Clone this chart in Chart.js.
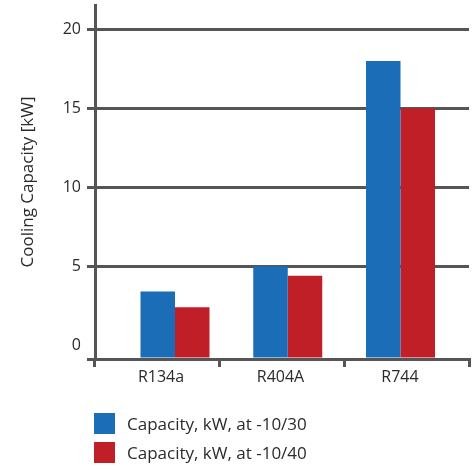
<!DOCTYPE html>
<html>
<head>
<meta charset="utf-8">
<script src="https://cdn.jsdelivr.net/npm/chart.js@4/dist/chart.umd.min.js"></script>
<style>
  html, body { margin: 0; padding: 0; background: #fff; }
  #wrap { position: relative; width: 474px; height: 470px; }
  #legend { position: absolute; left: 94px; top: 409px; font-family: "Open Sans", sans-serif; font-size: 17px; color: #2b2b2b; }
  .item { display: flex; align-items: center; height: 29px; }
  .box { width: 21px; height: 21px; margin-right: 12px; }
</style>
</head>
<body>
<div id="wrap">
  <canvas id="c" width="474" height="470"></canvas>
  <div id="legend"></div>
</div>
<script>
const categories = ["R134a", "R404A", "R744"];
const seriesNames = ["Capacity, kW, at -10/30", "Capacity, kW, at -10/40"];
const capacity1030 = [3.4, 5.0, 18.0];
const capacity1040 = [2.4, 4.4, 15.0];
const yTickValues = [0, 5, 10, 15, 20];
const yTitle = "Cooling Capacity [kW]";

const Y_MIN = -0.88;
const Y_MAX = 21.54;
const colors = ["#1b6db7", "#c11f27"];
const gridColor = "#555555";
const textColor = "#2b2b2b";

const toPoints = (arr) => arr.map((v, i) => ({ x: i, y: v }));
const indexTicks = (s) => { s.ticks = categories.map((_, i) => ({ value: i })); };

const chart = new Chart(document.getElementById("c"), {
  type: "bar",
  data: {
    labels: categories,
    datasets: [
      { label: seriesNames[0], data: toPoints(capacity1030), backgroundColor: colors[0], base: Y_MIN, xAxisID: "xb" },
      { label: seriesNames[1], data: toPoints(capacity1040), backgroundColor: colors[1], base: Y_MIN, xAxisID: "xb" }
    ]
  },
  options: {
    responsive: false,
    animation: false,
    devicePixelRatio: 1,
    layout: { padding: { left: 0, right: 5, top: 5, bottom: 71 } },
    datasets: { bar: { barPercentage: 1, categoryPercentage: 0.612 } },
    plugins: { legend: { display: false }, tooltip: { enabled: false } },
    scales: {
      xb: {
        type: "linear",
        axis: "x",
        position: "bottom",
        display: false,
        offset: false,
        min: -0.7095,
        max: 2.6075,
        afterBuildTicks: indexTicks
      },
      x: {
        type: "category",
        offset: true,
        weight: 0,
        grid: { display: true, drawOnChartArea: false, offset: true, color: gridColor, lineWidth: 3, tickLength: 8 },
        border: { display: true, color: gridColor, width: 3 },
        ticks: { display: false },
        afterFit: (s) => { s.height = 8; s.paddingLeft = 0; s.paddingRight = 0; }
      },
      xl: {
        type: "linear",
        axis: "x",
        position: "bottom",
        weight: 1,
        offset: false,
        min: -0.5523,
        max: 2.5774,
        afterBuildTicks: indexTicks,
        grid: { display: false, drawTicks: false },
        border: { display: false },
        ticks: {
          color: textColor,
          font: { family: "Open Sans", size: 16 },
          padding: 1,
          maxRotation: 0,
          callback: (v) => categories[v]
        },
        afterFit: (s) => { s.height = 32; s.paddingLeft = 0; s.paddingRight = 0; }
      },
      y: {
        min: Y_MIN,
        max: Y_MAX,
        afterBuildTicks: (s) => { s.ticks = [Y_MIN].concat(yTickValues).map(v => ({ value: v })); },
        ticks: {
          color: textColor,
          font: { family: "Open Sans", size: 16 },
          padding: 6,
          callback: (v) => (v === Y_MIN ? "" : String(v))
        },
        grid: {
          color: (ctx) => (ctx.tick && ctx.tick.value === 0 ? "rgba(0,0,0,0)" : gridColor),
          lineWidth: 3,
          tickLength: 8
        },
        border: { display: true, color: gridColor, width: 3 },
        title: {
          display: true,
          text: yTitle,
          color: textColor,
          font: { family: "Open Sans", size: 17 },
          padding: { top: 18, bottom: 0 }
        },
        afterFit: (s) => { s.width = 95; s.paddingTop = 0; s.paddingBottom = 0; }
      }
    }
  }
});

const legendEl = document.getElementById("legend");
chart.data.datasets.forEach((ds) => {
  const item = document.createElement("div");
  item.className = "item";
  const box = document.createElement("span");
  box.className = "box";
  box.style.background = ds.backgroundColor;
  const txt = document.createElement("span");
  txt.textContent = ds.label;
  item.appendChild(box);
  item.appendChild(txt);
  legendEl.appendChild(item);
});
</script>
</body>
</html>
